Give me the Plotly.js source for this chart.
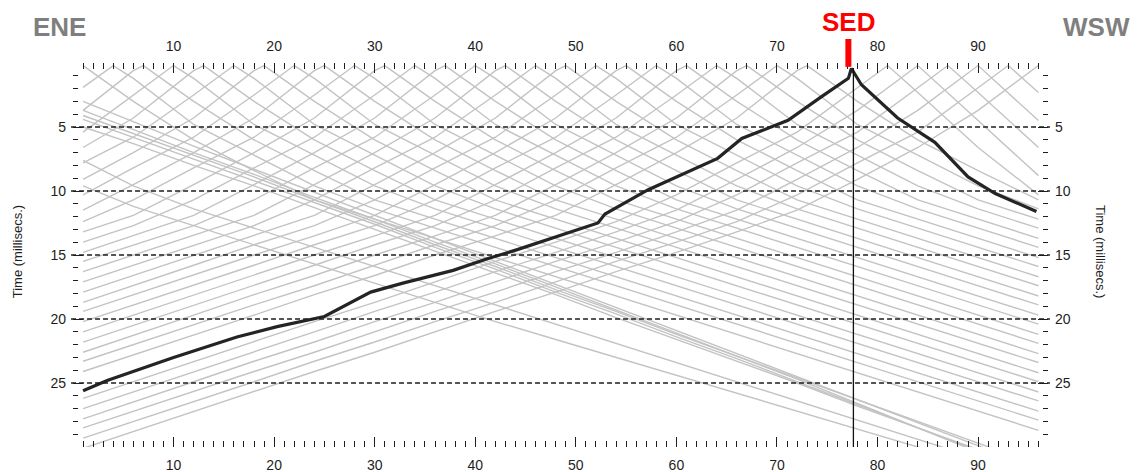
<!DOCTYPE html>
<html>
<head>
<meta charset="utf-8">
<script src="https://cdn.plot.ly/plotly-3.0.1.min.js"></script>
<style>
  html, body { margin: 0; padding: 0; background: #fff; }
  #chart { width: 1143px; height: 472px; }
</style>
</head>
<body>
<div id="chart"></div>
<script>
// Geophone stations (receiver positions) where first-break times are tabulated
const stations = [1, 6, 12, 18, 24, 30, 36, 42, 48, 54, 60, 66, 72, 78, 84, 90, 96];

// Shot positions for the gray traveltime curves (negative = off-end ENE shots)
const grayShots = [-19, -14, -9, -8, -7, -6, -5, 1, 4, 7, 10, 13, 16, 19, 22, 25, 28, 31, 34, 37,
                   40, 43, 46, 49, 52, 55, 58, 61, 64, 67, 70, 73, 81, 84, 87, 90, 93, 96];

// First-break time at the shot point itself (ms)
const shotPointTime = 0.2;

// First-break times (ms) at each station, one row per gray shot
const grayTimes = [
  [9.6, 11.2, 12.7, 14.2, 15.7, 17.2, 18.7, 20.2, 21.6, 23.0, 24.4, 25.8, 27.2, 28.6, 30.0, 31.4, 32.8],
  [7.6, 9.6, 11.4, 12.9, 14.4, 15.9, 17.4, 18.9, 20.4, 21.9, 23.4, 24.9, 26.4, 27.9, 29.4, 30.9, 32.4],
  [3.0, 4.6, 6.5, 8.3, 10.1, 11.9, 13.7, 15.5, 17.3, 19.1, 20.9, 22.7, 24.5, 26.3, 28.1, 29.9, 31.7],
  [3.7, 5.2, 7.0, 8.7, 10.5, 12.2, 14.0, 15.7, 17.5, 19.3, 21.1, 22.9, 24.7, 26.6, 28.5, 30.4, 32.3],
  [4.1, 5.5, 7.2, 8.9, 10.7, 12.4, 14.2, 15.9, 17.7, 19.4, 21.2, 22.9, 24.6, 26.3, 28.0, 29.7, 31.4],
  [4.4, 5.8, 7.5, 9.2, 10.9, 12.6, 14.4, 16.1, 17.9, 19.6, 21.4, 23.1, 24.9, 26.7, 28.5, 30.3, 32.1],
  [5.0, 6.3, 8.0, 9.6, 11.3, 13.0, 14.7, 16.4, 18.1, 19.9, 21.6, 23.3, 25.0, 26.8, 28.5, 30.2, 31.9],
  [0.2, 3.0, 6.0, 8.4, 10.7, 12.2, 13.7, 15.2, 16.7, 18.2, 19.7, 21.2, 22.7, 24.2, 25.7, 27.2, 28.7],
  [1.9, 1.2, 4.8, 7.2, 9.6, 11.4, 12.9, 14.4, 15.9, 17.4, 18.9, 20.4, 21.9, 23.4, 24.9, 26.4, 27.9],
  [3.7, 0.6, 3.0, 6.0, 8.4, 10.7, 12.2, 13.7, 15.2, 16.7, 18.2, 19.7, 21.2, 22.7, 24.2, 25.7, 27.2],
  [5.4, 2.5, 1.2, 4.8, 7.2, 9.6, 11.4, 12.9, 14.4, 15.9, 17.4, 18.9, 20.4, 21.9, 23.4, 24.9, 26.4],
  [6.6, 4.3, 0.6, 3.0, 6.0, 8.4, 10.7, 12.2, 13.7, 15.2, 16.7, 18.2, 19.7, 21.2, 22.7, 24.2, 25.7],
  [7.8, 5.8, 2.5, 1.2, 4.8, 7.2, 9.6, 11.4, 12.9, 14.4, 15.9, 17.4, 18.9, 20.4, 21.9, 23.4, 24.9],
  [9.1, 7.0, 4.3, 0.6, 3.0, 6.0, 8.4, 10.7, 12.2, 13.7, 15.2, 16.7, 18.2, 19.7, 21.2, 22.7, 24.2],
  [10.3, 8.2, 5.8, 2.5, 1.2, 4.8, 7.2, 9.6, 11.4, 12.9, 14.4, 15.9, 17.4, 18.9, 20.4, 21.9, 23.4],
  [11.5, 9.5, 7.0, 4.3, 0.6, 3.0, 6.0, 8.4, 10.7, 12.2, 13.7, 15.2, 16.7, 18.2, 19.7, 21.2, 22.7],
  [12.4, 10.7, 8.2, 5.8, 2.5, 1.2, 4.8, 7.2, 9.6, 11.4, 12.9, 14.4, 15.9, 17.4, 18.9, 20.4, 21.9],
  [13.2, 11.9, 9.5, 7.0, 4.3, 0.6, 3.0, 6.0, 8.4, 10.7, 12.2, 13.7, 15.2, 16.7, 18.2, 19.7, 21.2],
  [14.0, 12.7, 10.7, 8.2, 5.8, 2.5, 1.2, 4.8, 7.2, 9.6, 11.4, 12.9, 14.4, 15.9, 17.4, 18.9, 20.4],
  [14.8, 13.5, 11.9, 9.5, 7.0, 4.3, 0.6, 3.0, 6.0, 8.4, 10.7, 12.2, 13.7, 15.2, 16.7, 18.2, 19.7],
  [15.5, 14.2, 12.7, 10.7, 8.2, 5.8, 2.5, 1.2, 4.8, 7.2, 9.6, 11.4, 12.9, 14.4, 15.9, 17.4, 18.9],
  [16.3, 15.0, 13.5, 11.9, 9.5, 7.0, 4.3, 0.6, 3.0, 6.0, 8.4, 10.7, 12.2, 13.7, 15.2, 16.7, 18.2],
  [17.1, 15.8, 14.2, 12.7, 10.7, 8.2, 5.8, 2.5, 1.2, 4.8, 7.2, 9.6, 11.4, 12.9, 14.4, 15.9, 17.4],
  [17.9, 16.6, 15.0, 13.5, 11.9, 9.5, 7.0, 4.3, 0.6, 3.0, 6.0, 8.4, 10.7, 12.2, 13.7, 15.2, 16.7],
  [18.7, 17.4, 15.8, 14.2, 12.7, 10.7, 8.2, 5.8, 2.5, 1.2, 4.8, 7.2, 9.6, 11.4, 12.9, 14.4, 15.9],
  [19.4, 18.1, 16.6, 15.0, 13.5, 11.9, 9.5, 7.0, 4.3, 0.6, 3.0, 6.0, 8.4, 10.7, 12.2, 13.7, 15.2],
  [20.2, 18.9, 17.4, 15.8, 14.2, 12.7, 10.7, 8.2, 5.8, 2.5, 1.2, 4.8, 7.2, 9.6, 11.4, 12.9, 14.4],
  [21.0, 19.7, 18.1, 16.6, 15.0, 13.5, 11.9, 9.5, 7.0, 4.3, 0.6, 3.0, 6.0, 8.4, 10.7, 12.2, 13.7],
  [21.8, 20.5, 18.9, 17.4, 15.8, 14.2, 12.7, 10.7, 8.2, 5.8, 2.5, 1.2, 4.8, 7.2, 9.6, 11.4, 12.9],
  [22.6, 21.3, 19.7, 18.1, 16.6, 15.0, 13.5, 11.9, 9.5, 7.0, 4.3, 0.6, 3.0, 6.0, 8.4, 10.7, 12.2],
  [23.3, 22.0, 20.5, 18.9, 17.4, 15.8, 14.2, 12.7, 10.7, 8.2, 5.8, 2.5, 1.2, 4.8, 7.2, 9.6, 11.4],
  [24.1, 22.8, 21.3, 19.7, 18.1, 16.6, 15.0, 13.5, 11.9, 9.5, 7.0, 4.3, 0.6, 3.0, 6.0, 8.4, 10.7],
  [26.2, 24.9, 23.3, 21.8, 20.2, 18.7, 17.1, 15.5, 14.0, 12.4, 10.3, 7.8, 5.4, 1.9, 2.3, 6.6, 10.3],
  [27.0, 25.7, 24.1, 22.6, 21.0, 19.4, 17.9, 16.3, 14.8, 13.2, 11.5, 9.1, 6.6, 3.7, 0.2, 4.5, 8.8],
  [27.8, 26.5, 24.9, 23.3, 21.8, 20.2, 18.7, 17.1, 15.5, 14.0, 12.4, 10.3, 7.8, 5.4, 1.9, 2.3, 6.6],
  [28.5, 27.2, 25.7, 24.1, 22.6, 21.0, 19.4, 17.9, 16.3, 14.8, 13.2, 11.5, 9.1, 6.6, 3.7, 0.2, 4.5],
  [29.3, 28.0, 26.5, 24.9, 23.3, 21.8, 20.2, 18.7, 17.1, 15.5, 14.0, 12.4, 10.3, 7.8, 5.4, 1.9, 2.3],
  [30.1, 28.8, 27.2, 25.7, 24.1, 22.6, 21.0, 19.4, 17.9, 16.3, 14.8, 13.2, 11.5, 9.1, 6.6, 3.7, 0.2]
];

// Highlighted SED shot: picked first breaks
const sedX = [1, 3.4, 10, 16.3, 20.3, 24, 25, 29.6, 32.8, 37.8, 41.2, 44.1, 47.9, 52.2, 52.9,
              57.2, 64.1, 66.5, 69.1, 71.1, 74.4, 77.1, 77.4, 78.4, 82, 83.4, 85.7, 89, 91.7, 95.8];
const sedT = [25.6, 24.8, 23.0, 21.4, 20.6, 20.0, 19.8, 17.9, 17.2, 16.2, 15.3, 14.6, 13.6, 12.5, 11.8,
              9.9, 7.45, 5.9, 5.1, 4.47, 2.65, 1.2, 0.43, 1.7, 4.3, 5.0, 6.2, 8.9, 10.2, 11.6];

// Axis ticks
const distTicks = [10, 20, 30, 40, 50, 60, 70, 80, 90];
const timeTicks = [5, 10, 15, 20, 25];

// Marker positions for the SED shot
const sedLabelX = 77.1;
const sedLineX = 77.6;

const FONT = 'Liberation Sans, Arial, Helvetica, sans-serif';
const INK = '#1e1e1e';

const traces = [];

grayShots.forEach(function (s, i) {
  const xs = [], ts = [];
  const onSpread = s >= stations[0] && s <= stations[stations.length - 1] && stations.indexOf(s) < 0;
  let inserted = !onSpread;
  stations.forEach(function (st, j) {
    if (!inserted && st > s) {
      xs.push(s); ts.push(shotPointTime); inserted = true;
    }
    xs.push(st); ts.push(grayTimes[i][j]);
  });
  traces.push({
    type: 'scatter', mode: 'lines', x: xs, y: ts,
    line: { color: '#c3c3c3', width: 1.4 },
    hoverinfo: 'skip', showlegend: false
  });
});

traces.push({
  type: 'scatter', mode: 'lines', x: sedX, y: sedT,
  line: { color: '#242424', width: 3.2 },
  hoverinfo: 'skip', showlegend: false
});

// keeps the mirrored top / right axes alive
traces.push({
  type: 'scatter', mode: 'markers', x: sedX, y: sedT, xaxis: 'x2', yaxis: 'y2',
  marker: { opacity: 0 }, hoverinfo: 'skip', showlegend: false
});

function distAxis(side) {
  return {
    range: [0, 96.95], side: side,
    tickmode: 'array', tickvals: distTicks,
    ticks: 'inside', ticklen: 10, tickwidth: 1, tickcolor: INK,
    minor: { dtick: 1, tick0: 0, ticks: 'inside', ticklen: 6, tickwidth: 1, tickcolor: INK, showgrid: false },
    showgrid: false, zeroline: false, showline: false,
    ticklabelstandoff: 8,
    tickfont: { family: FONT, size: 14, color: INK }
  };
}
function timeAxis(side) {
  return {
    range: [30, 0], side: side,
    tickmode: 'array', tickvals: timeTicks,
    ticks: 'inside', ticklen: 10, tickwidth: 1, tickcolor: INK,
    minor: { dtick: 1, tick0: 0, ticks: 'inside', ticklen: 5, tickwidth: 1, tickcolor: INK, showgrid: false },
    showgrid: false, zeroline: false, showline: false,
    ticklabelstandoff: 6,
    tickfont: { family: FONT, size: 14, color: INK }
  };
}

const xBottom = distAxis('bottom');
const xTop = Object.assign(distAxis('top'), { overlaying: 'x', anchor: 'y' });
const yLeft = timeAxis('left');
const yRight = Object.assign(timeAxis('right'), { overlaying: 'y', anchor: 'x' });

const shapes = timeTicks.map(function (v) {
  return {
    type: 'line', xref: 'paper', x0: -0.002, x1: 1.002, yref: 'y', y0: v, y1: v,
    line: { color: INK, width: 1.3, dash: '5px,3px' }, layer: 'above'
  };
});
shapes.push({
  type: 'line', xref: 'x', x0: sedLineX, x1: sedLineX, yref: 'y', y0: 0.4, y1: 30,
  line: { color: '#111', width: 1.3 }, layer: 'above'
});
shapes.push({
  type: 'line', xref: 'x', x0: sedLabelX, x1: sedLabelX, yref: 'paper', y0: 0.99, y1: 1.0625,
  line: { color: '#ff0000', width: 6 }, layer: 'above'
});

const annotations = [
  { text: '<b>ENE</b>', xref: 'paper', yref: 'paper', x: -0.0136, y: 1.095, showarrow: false,
    xanchor: 'center', yanchor: 'middle', font: { family: FONT, size: 26, color: '#7f7f7f' } },
  { text: '<b>WSW</b>', xref: 'paper', yref: 'paper', x: 1.0497, y: 1.095, showarrow: false,
    xanchor: 'center', yanchor: 'middle', font: { family: FONT, size: 26, color: '#7f7f7f' } },
  { text: '<b>SED</b>', xref: 'x', yref: 'paper', x: sedLabelX, y: 1.1055, showarrow: false,
    xanchor: 'center', yanchor: 'middle', font: { family: FONT, size: 26, color: '#ff0000' } },
  { text: 'Time (millisecs.)', xref: 'paper', yref: 'paper', x: -0.0561, y: 0.508, showarrow: false,
    textangle: -90, xanchor: 'center', yanchor: 'middle', font: { family: FONT, size: 13, color: INK } },
  { text: 'Time (millisecs.)', xref: 'paper', yref: 'paper', x: 1.0533, y: 0.508, showarrow: false,
    textangle: 90, xanchor: 'center', yanchor: 'middle', font: { family: FONT, size: 13, color: INK } }
];

const layout = {
  width: 1143, height: 472,
  margin: { l: 72.75, r: 95, t: 63, b: 25, pad: 0 },
  paper_bgcolor: '#ffffff', plot_bgcolor: '#ffffff',
  showlegend: false,
  font: { family: FONT, size: 14, color: INK },
  xaxis: xBottom, xaxis2: xTop, yaxis: yLeft, yaxis2: yRight,
  shapes: shapes, annotations: annotations
};

Plotly.newPlot('chart', traces, layout, { staticPlot: true, displayModeBar: false });
</script>
</body>
</html>
